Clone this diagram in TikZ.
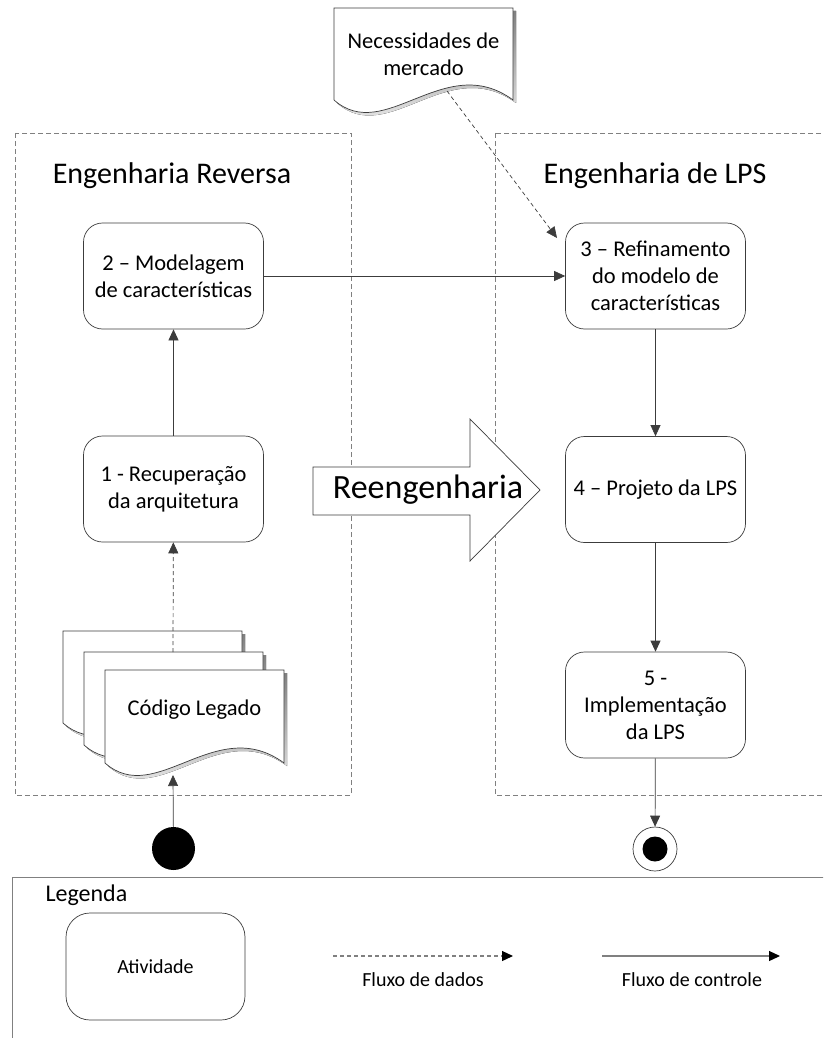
\documentclass[tikz,border=0pt]{standalone}
\usepackage{fontspec}
\setmainfont{Carlito}
\usetikzlibrary{arrows.meta}

\definecolor{edge}{HTML}{3C3C3C}
\definecolor{frame}{HTML}{808080}
\definecolor{shade}{HTML}{ECECEC}

% document sheet with a wavy lower edge: left, top, width, height
\newcommand\docsheet[4]{%
  \fill[shade] ({#1+3},{#2+3}) -- ({#1+#3+3},{#2+3}) -- ({#1+#3+3},{#2+#4+3})
    .. controls ({#1+0.62*#3+3},{#2+#4-47}) and ({#1+0.285*#3+3},{#2+#4+48}) .. ({#1+3},{#2+#4+3}) -- cycle;
  \draw[draw=edge, line width=0.7pt, fill=white] (#1,#2) -- ({#1+#3},#2) -- ({#1+#3},{#2+#4})
    .. controls ({#1+0.62*#3},{#2+#4-50}) and ({#1+0.285*#3},{#2+#4+45}) .. (#1,{#2+#4}) -- cycle;}

\begin{document}
\begin{tikzpicture}[x=1pt, y=-1pt,
  activity/.style={draw=edge, line width=0.7pt, rounded corners=19pt, fill=white,
    minimum width=180pt, minimum height=106pt, align=center, inner sep=0pt,
    font=\fontsize{22.5}{27}\selectfont},
  ctrl/.style={draw=edge, line width=0.7pt, -{Triangle[length=11pt,width=10pt]}},
  data/.style={ctrl, dash pattern=on 4pt off 3pt},
  region/.style={draw=frame, line width=0.7pt, dash pattern=on 5pt off 3pt},
  title/.style={anchor=base, font=\fontsize{30}{36}\selectfont},
  doctext/.style={align=center, font=\fontsize{22.5}{27}\selectfont},
  legtext/.style={font=\fontsize{20}{24}\selectfont},
  legarrow/.style={draw=frame, line width=1.2pt, -{Triangle[length=11pt,width=10pt,color=black]}}]

\useasboundingbox (0,0) rectangle (823,1038);
\clip (0,0) rectangle (823,1038);

% process regions
\draw[region] (15,133) rectangle (351,795);
\draw[region] (495,133) rectangle (840,795);
\node[title] (revtitle) at (172,183) {Engenharia Reversa};
\node[title] (lpstitle) at (655,183) {Engenharia de LPS};

% market needs document
\docsheet{334}{8}{179}{92}
\node[doctext] (market) at (423.5,54) {Necessidades de\\mercado};
\coordinate (marketout) at (447,91);

% legacy code stack
\docsheet{63}{631}{179}{92}
\docsheet{84}{652}{179}{93}
\docsheet{105}{670}{179}{93}
\node[doctext] (legacy) at (194.5,710) {Código Legado};
\coordinate (legacyout) at (173,652);
\coordinate (legacyin) at (173,775);

% activities
\node[activity] (b2) at (173.5,276) {2 – Modelagem\\de características};
\node[activity] (b1) at (173.5,489) {1 - Recuperação\\da arquitetura};
\node[activity] (b3) at (655.5,276) {3 – Refinamento\\do modelo de\\características};
\node[activity] (b4) at (655.5,489.5) {4 – Projeto da LPS};
\node[activity] (b5) at (655.5,705) {5 -\\Implementação\\da LPS};
\coordinate (b3in) at (557,238);

% reengineering arrow
\draw[draw=edge, line width=0.7pt, fill=white]
  (313,467) -- (470,467) -- (470,419) -- (540,490) -- (470,561) -- (470,515) -- (313,515) -- cycle;
\node[font=\fontsize{34}{40}\selectfont] (reeng) at (428,490) {Reengenharia};

% initial and final states
\node[circle, fill=black, minimum size=43pt, inner sep=0pt] (start) at (173.5,848.5) {};
\node[circle, draw=edge, line width=0.7pt, fill=white, minimum size=44pt, inner sep=0pt] (stop) at (655,849) {};
\node[circle, fill=black, minimum size=25pt, inner sep=0pt] (stopcore) at (655,849) {};

% flows
\draw[ctrl] (start) -- (legacyin);
\draw[data] (legacyout) -- (b1);
\draw[ctrl] (b1) -- (b2);
\draw[ctrl] (b2) -- (b3);
\draw[data] (marketout) -- (b3in);
\draw[ctrl] (b3) -- (b4);
\draw[ctrl] (b4) -- (b5);
\draw[ctrl] (b5) -- (stop);

% legend
\draw[draw=frame, line width=0.8pt] (12,877) rectangle (840,1060);
\node[anchor=base west, font=\fontsize{24}{28}\selectfont] (legtitle) at (42,901) {Legenda};
\node[activity, minimum width=179pt, minimum height=107pt, rounded corners=24pt, font=\fontsize{20}{24}\selectfont] (legact) at (155.5,966.5) {Atividade};
\coordinate (ld1) at (333,956);
\coordinate (ld2) at (513,956);
\coordinate (lc1) at (602,956);
\coordinate (lc2) at (780,956);
\draw[legarrow, dash pattern=on 4pt off 3pt] (ld1) -- (ld2);
\draw[legarrow] (lc1) -- (lc2);
\node[legtext] (ldtext) at (423,980) {Fluxo de dados};
\node[legtext] (lctext) at (692,980) {Fluxo de controle};
\end{tikzpicture}
\end{document}
